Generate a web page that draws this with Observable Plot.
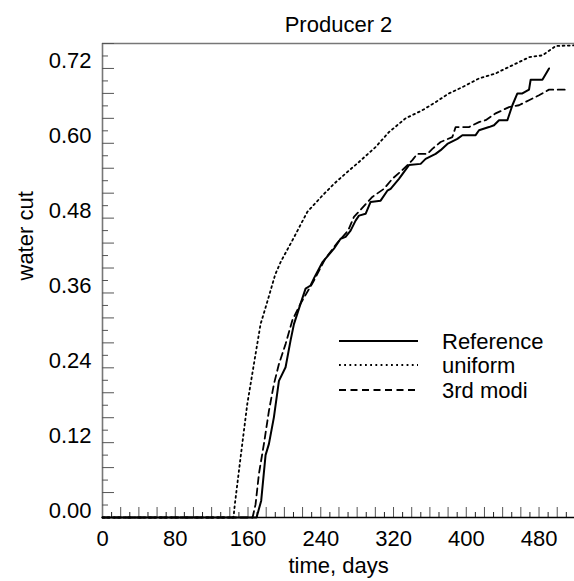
<!DOCTYPE html>
<html><head><meta charset="utf-8">
<script src="https://cdn.jsdelivr.net/npm/d3@7"></script>
<script src="https://cdn.jsdelivr.net/npm/@observablehq/plot@0.6"></script>
<style>
body{margin:0;background:#fff}
#chart{position:relative;width:574px;height:581px}
</style>
</head><body><div id="chart"></div>
<script>
// ---- data ----
const refDays = [0,169.4,174.5,179.3,183,188.5,194,201.3,206.8,210.5,217.8,223.3,228.8,233,241.7,254.5,261.8,267.3,272.8,278.3,282,289.3,294.8,305.8,313.2,316.8,326,337,349.8,355.3,366.3,371.8,379.2,390.2,395.7,410.3,414,425,430.5,436,445.2,450.7,456.2,461.7,469,470.8,483.7,491];
const refCut  = [0,0,0.027,0.100,0.118,0.161,0.219,0.241,0.284,0.310,0.343,0.367,0.372,0.385,0.409,0.431,0.447,0.450,0.460,0.476,0.484,0.487,0.506,0.508,0.524,0.527,0.543,0.565,0.567,0.575,0.583,0.589,0.599,0.607,0.613,0.613,0.621,0.626,0.629,0.637,0.637,0.661,0.680,0.680,0.686,0.702,0.702,0.720];

const uniDays = [0,144,145.5,151.8,159.2,168.3,173.8,182,190,196,210.5,225.2,241.7,254.5,269.2,282,300.3,315,333.3,351.7,366.3,381,395.7,414,432.3,443.3,450.7,469,483.7,494.7,498.3,519];
const uniCut  = [0,0,0.021,0.096,0.182,0.262,0.310,0.350,0.390,0.410,0.449,0.490,0.516,0.535,0.554,0.570,0.594,0.618,0.640,0.653,0.666,0.680,0.690,0.704,0.712,0.720,0.725,0.738,0.741,0.752,0.756,0.757];

const modDays = [0,165,168.3,172,177.5,183,188.5,194,201.3,208.7,217.8,232.5,245,258,270,276.5,296.7,309.5,318.7,329.7,340.7,346.2,357.2,362.7,371.8,384.7,388.3,403,414,421.3,432.3,439.7,447,458,469,480,491,511.2];
const modCut  = [0,0,0.021,0.070,0.118,0.171,0.214,0.246,0.278,0.316,0.343,0.380,0.415,0.440,0.460,0.482,0.514,0.527,0.543,0.557,0.573,0.583,0.583,0.591,0.602,0.610,0.626,0.626,0.634,0.637,0.648,0.653,0.658,0.661,0.669,0.677,0.686,0.686];

const seriesNames = ["Reference","uniform","3rd modi"];
const xTickLabels = [0,80,160,240,320,400,480];
const yTickLabels = [0,0.12,0.24,0.36,0.48,0.60,0.72];
const xDomain = [0,519];
const yDomain = [0,0.76];

// ---- build ----
const styles = {
  "Reference": {dash: null},
  "uniform": {dash: "1.8,3.4"},
  "3rd modi": {dash: "7,4.5"}
};
const raw = {"Reference":[refDays,refCut],"uniform":[uniDays,uniCut],"3rd modi":[modDays,modCut]};
const rows = seriesNames.flatMap(name => raw[name][0].map((d,i)=>({series:name, day:d, cut:raw[name][1][i]})));

const xMinor = d3.range(10, 519, 10);
const xMajor = xMinor.filter(d => d % 20 === 0);
const xShort = xMinor.filter(d => d % 20 !== 0);
const yAll = d3.range(1, 39).map(i => +(i*0.02).toFixed(2));
const yMajor = yAll.filter((d,i) => (i+1) % 2 === 0);
const yShort = yAll.filter((d,i) => (i+1) % 2 !== 0);

const FONT = "'Liberation Sans', Arial, Helvetica, sans-serif";
const FS = 22;
const tickColor = "#555";

const chart = Plot.plot({
  width: 574, height: 581,
  marginLeft: 102, marginRight: 0, marginTop: 43, marginBottom: 64,
  style: {fontFamily: FONT, fontSize: FS + "px", background: "#fff", color: "#000"},
  x: {domain: xDomain},
  y: {domain: yDomain},
  marks: [
    // frame lines
    Plot.ruleX([0], {stroke: "#777", strokeWidth: 1.6}),
    Plot.ruleY([yDomain[1]], {stroke: "#777", strokeWidth: 1.6}),
    // inward ticks
    Plot.axisY(yMajor, {anchor: "left", tickSize: -12, tickFormat: () => "", stroke: tickColor, label: null}),
    Plot.axisY(yShort, {anchor: "left", tickSize: -6, tickFormat: () => "", stroke: tickColor, label: null}),
    Plot.axisX(xMajor, {anchor: "bottom", tickSize: -10, tickFormat: () => "", stroke: tickColor, label: null}),
    Plot.axisX(xShort, {anchor: "bottom", tickSize: -5, tickFormat: () => "", stroke: "#222", label: null}),
    // tick labels
    Plot.axisY(yTickLabels, {anchor: "left", tickSize: 0, tickPadding: 11, tickFormat: d => d.toFixed(2), lineAnchor: "bottom", fontSize: FS, label: null}),
    Plot.axisX(xTickLabels, {anchor: "bottom", tickSize: 0, tickPadding: 13, tickFormat: d => String(d), fontSize: FS, label: null}),
    Plot.ruleY([0], {stroke: "#000", strokeWidth: 1.6}),
    // series
    ...seriesNames.map(name => Plot.line(rows.filter(r => r.series === name), {
      x: "day", y: "cut", stroke: "#000", strokeWidth: name === "Reference" ? 2 : 1.8,
      strokeDasharray: styles[name].dash
    })),
    // titles
    Plot.text(["Producer 2"], {frameAnchor: "top", dy: -11.5, lineAnchor: "bottom", fontSize: FS, text: d => d}),
    Plot.text(["time, days"], {frameAnchor: "bottom", dy: 55, lineAnchor: "bottom", fontSize: FS, text: d => d}),
    Plot.text(["water cut"], {frameAnchor: "left", dx: -70, rotate: -90, lineAnchor: "bottom", fontSize: FS, text: d => d})
  ]
});
document.getElementById("chart").appendChild(chart);

// legend
const svg = d3.select(chart.tagName.toLowerCase() === "svg" ? chart : chart.querySelector("svg"));
const lg = svg.append("g").attr("font-family", FONT).attr("font-size", FS).attr("text-anchor", "start");
const legY = [341, 365, 390];
seriesNames.forEach((name, i) => {
  lg.append("line").attr("x1", 339).attr("x2", 418).attr("y1", legY[i]).attr("y2", legY[i])
    .attr("stroke", "#000").attr("stroke-width", name === "Reference" ? 2 : 1.8)
    .attr("stroke-dasharray", styles[name].dash);
  lg.append("text").attr("x", 442).attr("y", legY[i]).attr("dy", "0.35em").attr("text-anchor", "start").text(name);
});
</script>
</body></html>
